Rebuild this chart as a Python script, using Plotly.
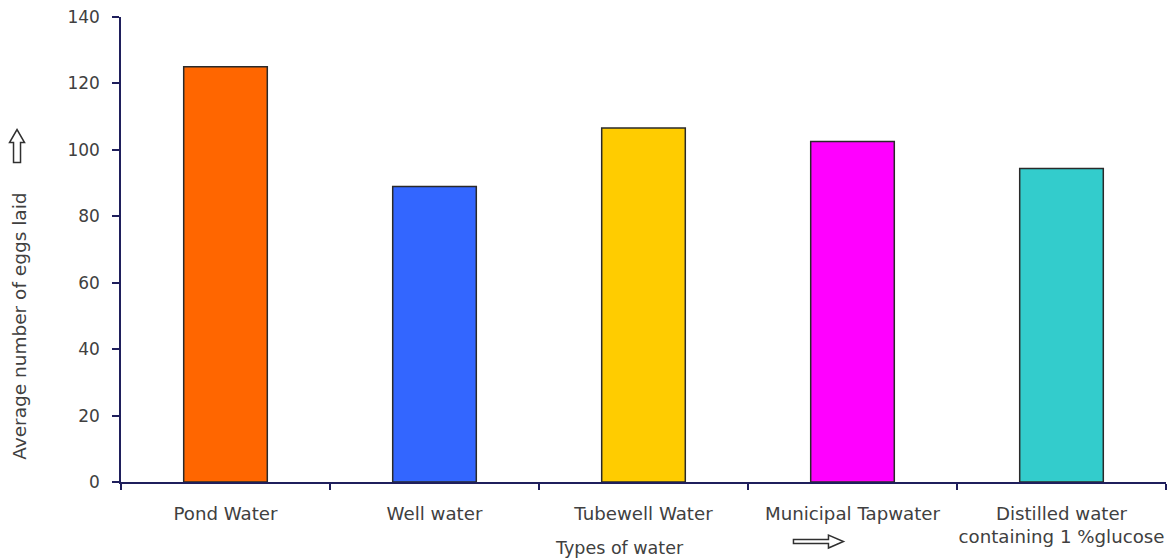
import plotly.graph_objects as go

categories = ["Pond Water", "Well water", "Tubewell Water", "Municipal Tapwater",
              "Distilled water<br>containing 1 %glucose"]
values = [125, 89, 106.6, 102.5, 94.4]
colors = ["#FF6600", "#3366FF", "#FFCC00", "#FF00FF", "#33CCCC"]
y_ticks = [0, 20, 40, 60, 80, 100, 120, 140]

FONT = "DejaVu Sans"
TXT = "#404040"
AX = "#1F1F5C"

fig = go.Figure(go.Bar(
    x=categories, y=values,
    marker=dict(color=colors, line=dict(color="#2a2a2a", width=1.5)),
    width=0.4,
))

up_arrow = "M -3.5,0 L 3.5,0 L 3.5,20 L 7.5,20 L 0,33 L -7.5,20 L -3.5,20 Z"
right_arrow = "M 0,-2 L 35,-2 L 35,-6.5 L 50,0 L 35,6.5 L 35,2 L 0,2 Z"

fig.update_layout(
    width=1168, height=559,
    margin=dict(l=121, r=2, t=17, b=77),
    plot_bgcolor="white", paper_bgcolor="white",
    showlegend=False,
    font=dict(family=FONT, size=17, color=TXT),
    xaxis=dict(
        type="category", range=[-0.5, 4.5],
        showline=True, linecolor=AX, linewidth=1.5,
        ticks="outside", tickson="boundaries", ticklen=6, tickcolor=AX, tickwidth=1.5,
        showgrid=False, ticklabelstandoff=14, tickangle=0, automargin=False,
        tickfont=dict(family=FONT, size=18.2, color=TXT),
    ),
    yaxis=dict(
        range=[0, 140], tickvals=y_ticks,
        showline=True, linecolor=AX, linewidth=1.5,
        ticks="outside", ticklen=7, tickcolor=AX, tickwidth=1.5,
        showgrid=False, zeroline=False, ticklabelstandoff=9, automargin=False,
        tickfont=dict(family=FONT, size=17, color=TXT),
    ),
    annotations=[
        dict(text="Average number of eggs laid", textangle=-90,
             xref="paper", yref="paper", x=-0.0965, y=0.334,
             xanchor="center", yanchor="middle", showarrow=False,
             font=dict(family=FONT, size=18.5, color=TXT)),
        dict(text="Types of water", xref="paper", yref="paper", x=0.4775, y=-0.141,
             xanchor="center", yanchor="middle", showarrow=False,
             font=dict(family=FONT, size=17.5, color=TXT)),
    ],
    shapes=[
        dict(type="path", path=up_arrow, xref="paper", yref="paper",
             xsizemode="pixel", ysizemode="pixel", xanchor=-0.0995, yanchor=0.687,
             line=dict(color="#303030", width=1.5), fillcolor="white"),
        dict(type="path", path=right_arrow, xref="paper", yref="paper",
             xsizemode="pixel", ysizemode="pixel", xanchor=0.6435, yanchor=-0.128,
             line=dict(color="#303030", width=1.5), fillcolor="white"),
    ],
)

fig.write_html("out.html")
